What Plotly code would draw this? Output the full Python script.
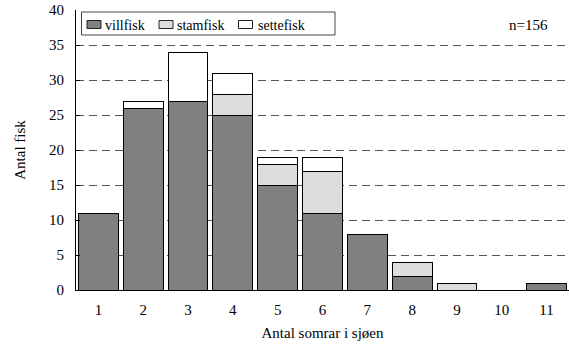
import plotly.graph_objects as go

categories = ["1", "2", "3", "4", "5", "6", "7", "8", "9", "10", "11"]
villfisk = [11, 26, 27, 25, 15, 11, 8, 2, 0, 0, 1]
stamfisk = [0, 0, 0, 3, 3, 6, 0, 2, 1, 0, 0]
settefisk = [0, 1, 7, 3, 1, 2, 0, 0, 0, 0, 0]
y_ticks = [0, 5, 10, 15, 20, 25, 30, 35, 40]
series_names = ["villfisk", "stamfisk", "settefisk"]
series_colors = ["#808080", "#dddddd", "#ffffff"]

FONT = "Liberation Serif, Times New Roman, serif"
W, H = 569, 347
ML, MR, MT, MB = 76, 0, 10, 57
PW, PH = W - ML - MR, H - MT - MB


def px(x):
    return (x - ML) / PW


def py(y):
    return (H - MB - y) / PH


fig = go.Figure()
for name, vals, col in zip(series_names, [villfisk, stamfisk, settefisk], series_colors):
    fig.add_trace(go.Bar(x=categories, y=vals, name=name, showlegend=False,
                         marker=dict(color=col, line=dict(color="#000000", width=1))))

shapes = [dict(type="rect", xref="paper", yref="paper",
               x0=px(81.5), x1=px(335), y0=py(35), y1=py(12),
               line=dict(color="#444444", width=1), fillcolor="white", layer="above")]
annotations = []
sw_x = [87, 159, 238.5]
tx_x = [103, 175, 255.5]
for name, col, sx, tx in zip(series_names, series_colors, sw_x, tx_x):
    shapes.append(dict(type="rect", xref="paper", yref="paper",
                       x0=px(sx), x1=px(sx + 14), y0=py(28.5), y1=py(20.5),
                       line=dict(color="#222222", width=1), fillcolor=col, layer="above"))
    annotations.append(dict(text=name, xref="paper", yref="paper", x=px(tx), y=py(25),
                            xanchor="left", yanchor="middle", showarrow=False,
                            font=dict(family=FONT, size=14, color="#000000")))
annotations.append(dict(text="n=156", xref="paper", yref="paper", x=px(528), y=py(25),
                        xanchor="center", yanchor="middle", showarrow=False,
                        font=dict(family=FONT, size=15, color="#000000")))

fig.update_layout(
    barmode="stack",
    bargap=0.11,
    width=W, height=H,
    margin=dict(l=ML, r=MR, t=MT, b=MB),
    paper_bgcolor="white", plot_bgcolor="white",
    font=dict(family=FONT, size=15, color="#000000"),
    showlegend=False,
    xaxis=dict(type="category", showline=True, linecolor="#000000", linewidth=1,
               ticks="", showgrid=False, ticklabelstandoff=6,
               title=dict(text="Antal somrar i sjøen", font=dict(family=FONT, size=15), standoff=10)),
    yaxis=dict(range=[0, 40], tickvals=y_ticks, showline=True, linecolor="#000000", linewidth=1,
               ticks="inside", ticklen=4, tickcolor="#000000", ticklabelstandoff=8,
               showgrid=True, gridcolor="#555555", gridwidth=1.3, griddash="8px,5px",
               zeroline=False,
               title=dict(text="Antal fisk", font=dict(family=FONT, size=15), standoff=19)),
    shapes=shapes,
    annotations=annotations,
)

fig.write_html("out.html")
